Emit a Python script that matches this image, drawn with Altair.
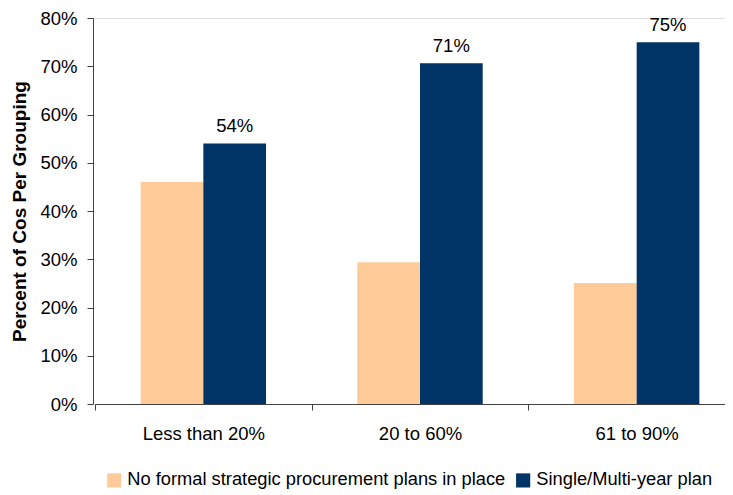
import altair as alt
import pandas as pd

groups = ["Less than 20%", "20 to 60%", "61 to 90%"]
series = ["No formal strategic procurement plans in place", "Single/Multi-year plan"]
no_plan = [0.46, 0.294, 0.251]
plan = [0.54, 0.706, 0.75]
colors = ["#FFCC99", "#003366"]
y_ticks = [0, 0.1, 0.2, 0.3, 0.4, 0.5, 0.6, 0.7, 0.8]

rows = []
for g, a, b in zip(groups, no_plan, plan):
    rows.append({"group": g, "series": series[0], "value": a})
    rows.append({"group": g, "series": series[1], "value": b})
df = pd.DataFrame(rows)

FONT = "Liberation Sans"

x = alt.X("group:N", sort=groups, title=None,
          scale=alt.Scale(paddingInner=0, paddingOuter=0, range=[2, 652]),
          axis=alt.Axis(labelAngle=0, labelFontSize=18.5, labelFont=FONT, labelColor="#000000",
                        tickBand="extent", tickSize=6, tickColor="#404040",
                        domainColor="#404040", labelPadding=14))
y = alt.Y("value:Q", title="Percent of Cos Per Grouping",
          scale=alt.Scale(domain=[0, 0.8], nice=False),
          axis=alt.Axis(format=".0%", values=y_ticks, grid=False, tickSize=6,
                        tickColor="#404040", domainColor="#404040",
                        labelFontSize=18.5, labelFont=FONT, labelColor="#000000", labelPadding=10,
                        titleFontSize=19, titleFont=FONT, titleFontWeight="bold",
                        titleColor="#000000", titlePadding=10))
xoff = alt.XOffset("series:N", sort=series,
                   scale=alt.Scale(paddingInner=0, paddingOuter=0.728))

bars = alt.Chart(df).mark_bar().encode(
    x=x, y=y, xOffset=xoff,
    color=alt.Color("series:N", sort=series,
                    scale=alt.Scale(domain=series, range=colors),
                    legend=alt.Legend(title=None, orient="none", direction="horizontal",
                                      legendX=12, legendY=453,
                                      symbolType="square", symbolSize=200,
                                      symbolStrokeWidth=0, symbolOpacity=1,
                                      labelFontSize=18.3, labelFont=FONT, labelColor="#000000",
                                      labelLimit=600, columnPadding=8, labelOffset=4)),
)

labels = alt.Chart(df).transform_filter(
    alt.datum.series == series[1]
).mark_text(fontSize=18.5, font=FONT, color="#000000", baseline="alphabetic", dy=-11).encode(
    x=alt.X("group:N", sort=groups,
            scale=alt.Scale(paddingInner=0, paddingOuter=0, range=[2, 652])),
    xOffset=xoff,
    y=alt.Y("value:Q"),
    text=alt.Text("value:Q", format=".0%"),
)

chart = alt.layer(bars, labels).properties(
    width=632, height=386,
    autosize=alt.AutoSizeParams(type="none"),
    padding={"left": 85, "top": 10, "right": 0, "bottom": 92},
).configure_view(stroke=None).configure(background="#ffffff")

chart.save("out.html", embed_options={"renderer": "svg", "actions": False})
